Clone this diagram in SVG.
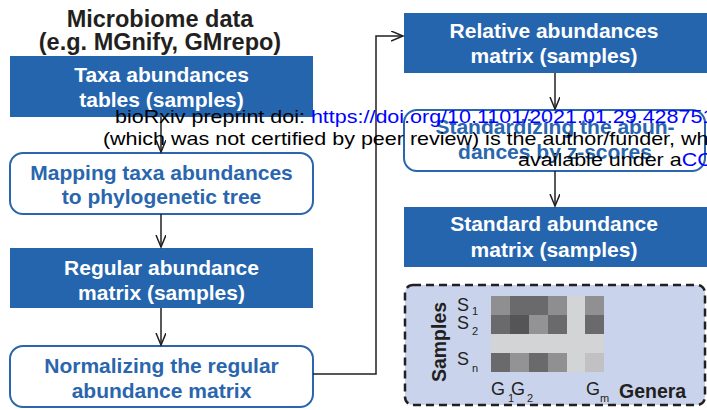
<svg xmlns="http://www.w3.org/2000/svg" width="707" height="410" viewBox="0 0 707 410">
  <style>
    .solid { fill: #2565ae; }
    .round { fill: #ffffff; stroke: #2a66ad; stroke-width: 2; }
    .t { font-family: "Liberation Sans", Arial, sans-serif; font-weight: bold; font-size: 21px; text-anchor: middle; }
    .w { fill: #ffffff; }
    .b { fill: #2a66ad; }
    .title { font-family: "Liberation Sans", Arial, sans-serif; font-weight: bold; font-size: 23.5px; text-anchor: middle; fill: #231f20; }
    .lab { font-family: "Liberation Sans", Arial, sans-serif; font-size: 18px; fill: #231f20; }
    .sub { font-family: "Liberation Sans", Arial, sans-serif; font-size: 11px; fill: #231f20; }
    .axis { font-family: "Liberation Sans", Arial, sans-serif; font-weight: bold; font-size: 19.5px; fill: #231f20; }
    .conn { fill: none; stroke: #231f20; stroke-width: 1.5; }
    .wm { font-family: "Liberation Sans", Arial, sans-serif; font-size: 18.5px; fill: #000000; }
    .link { fill: #0000ff; }
  </style>
  <defs>
    <marker id="arrow" markerUnits="userSpaceOnUse" markerWidth="14" markerHeight="12" refX="12" refY="5" orient="auto">
      <path d="M0,0 L12,5 L0,10" fill="none" stroke="#231f20" stroke-width="1.5"/>
    </marker>
  </defs>

  <!-- heading -->
  <g id="heading">
    <text class="title" x="160" y="27">Microbiome data</text>
    <text class="title" x="160" y="50">(e.g. MGnify, GMrepo)</text>
  </g>

  <!-- left column -->
  <g id="taxa-tables">
    <rect class="solid" x="10" y="56" width="303" height="61"/>
    <text class="t w" x="161.5" y="82">Taxa abundances</text>
    <text class="t w" x="161.5" y="107">tables (samples)</text>
  </g>
  <g id="mapping">
    <rect class="round" x="10" y="153" width="303" height="61" rx="13"/>
    <text class="t b" x="161.5" y="180">Mapping taxa abundances</text>
    <text class="t b" x="161.5" y="204">to phylogenetic tree</text>
  </g>
  <g id="regular-matrix">
    <rect class="solid" x="10" y="248" width="303" height="60"/>
    <text class="t w" x="161.5" y="275">Regular abundance</text>
    <text class="t w" x="161.5" y="300">matrix (samples)</text>
  </g>
  <g id="normalizing">
    <rect class="round" x="10" y="346" width="303" height="61" rx="13"/>
    <text class="t b" x="161.5" y="373">Normalizing the regular</text>
    <text class="t b" x="161.5" y="398">abundance matrix</text>
  </g>

  <!-- right column -->
  <g id="relative-matrix">
    <rect class="solid" x="404" y="13" width="303" height="60"/>
    <text class="t w" x="554" y="38">Relative abundances</text>
    <text class="t w" x="554" y="63">matrix (samples)</text>
  </g>
  <g id="standardizing">
    <rect class="round" x="404" y="110" width="301" height="61" rx="13"/>
    <text class="t b" x="555" y="134">Standardizing the abun-</text>
    <text class="t b" x="555" y="159">dances by z-scores</text>
  </g>
  <g id="standard-matrix">
    <rect class="solid" x="404" y="207" width="303" height="60"/>
    <text class="t w" x="554" y="231">Standard abundance</text>
    <text class="t w" x="554" y="257">matrix (samples)</text>
  </g>

  <!-- sample x genus matrix sketch -->
  <g id="matrix-sketch">
    <rect x="405" y="285" width="300" height="120" rx="8" fill="#c9d4ec" stroke="#231f20" stroke-width="2.5" stroke-dasharray="8 5"/>
    <g id="cells">
      <rect x="491" y="296" width="19" height="19" fill="#8f8f90"/>
      <rect x="510" y="296" width="19" height="19" fill="#6a6a6c"/>
      <rect x="529" y="296" width="19" height="19" fill="#6a6a6c"/>
      <rect x="548" y="296" width="19" height="19" fill="#8e8e90"/>
      <rect x="567" y="296" width="18" height="19" fill="#d3d4d6"/>
      <rect x="585" y="296" width="19" height="19" fill="#909092"/>

      <rect x="491" y="315" width="19" height="19" fill="#6a6a6c"/>
      <rect x="510" y="315" width="19" height="19" fill="#555557"/>
      <rect x="529" y="315" width="19" height="19" fill="#939395"/>
      <rect x="548" y="315" width="19" height="19" fill="#6a6a6c"/>
      <rect x="567" y="315" width="18" height="19" fill="#d3d4d6"/>
      <rect x="585" y="315" width="19" height="19" fill="#6a6a6c"/>

      <rect x="491" y="334" width="113" height="19" fill="#d3d4d6"/>

      <rect x="491" y="353" width="19" height="19" fill="#6a6a6c"/>
      <rect x="510" y="353" width="19" height="19" fill="#939395"/>
      <rect x="529" y="353" width="19" height="19" fill="#6a6a6c"/>
      <rect x="548" y="353" width="19" height="19" fill="#909092"/>
      <rect x="567" y="353" width="18" height="19" fill="#d3d4d6"/>
      <rect x="585" y="353" width="19" height="19" fill="#c1c1c3"/>
    </g>
    <text class="axis" transform="translate(446,342) rotate(-90)" text-anchor="middle">Samples</text>
    <text class="lab" x="457" y="311">S</text><text class="sub" x="472" y="315">1</text>
    <text class="lab" x="457" y="329">S</text><text class="sub" x="472" y="335">2</text>
    <text class="lab" x="457" y="365">S</text><text class="sub" x="472" y="372">n</text>
    <text class="lab" x="491" y="395">G</text><text class="sub" x="508" y="402">1</text>
    <text class="lab" x="511" y="395">G</text><text class="sub" x="527" y="402">2</text>
    <text class="lab" x="586" y="395">G</text><text class="sub" x="600" y="402">m</text>
    <text class="axis" x="619" y="398">Genera</text>
  </g>

  <!-- connectors -->
  <g id="connectors">
    <line class="conn" x1="161" y1="117" x2="161" y2="152" marker-end="url(#arrow)"/>
    <line class="conn" x1="161" y1="214" x2="161" y2="247" marker-end="url(#arrow)"/>
    <line class="conn" x1="161" y1="308" x2="161" y2="345" marker-end="url(#arrow)"/>
    <polyline class="conn" points="313,374 376,374 376,36 403,36" marker-end="url(#arrow)"/>
    <line class="conn" x1="555" y1="73" x2="555" y2="109" marker-end="url(#arrow)"/>
    <line class="conn" x1="555" y1="171" x2="555" y2="206" marker-end="url(#arrow)"/>
  </g>

  <!-- preprint notice laid over the figure -->
  <g id="preprint-notice" transform="scale(1.162,1)">
    <text class="wm" x="99" y="123">bioRxiv preprint doi: <tspan class="link">https://doi.org/10.1101/2021.01.29.428751</tspan></text>
    <text class="wm" x="88.6" y="145">(which was not certified by peer review) is the author/funder, wh</text>
    <text class="wm" x="445.8" y="166">available under a<tspan class="link">CC</tspan></text>
  </g>
</svg>
